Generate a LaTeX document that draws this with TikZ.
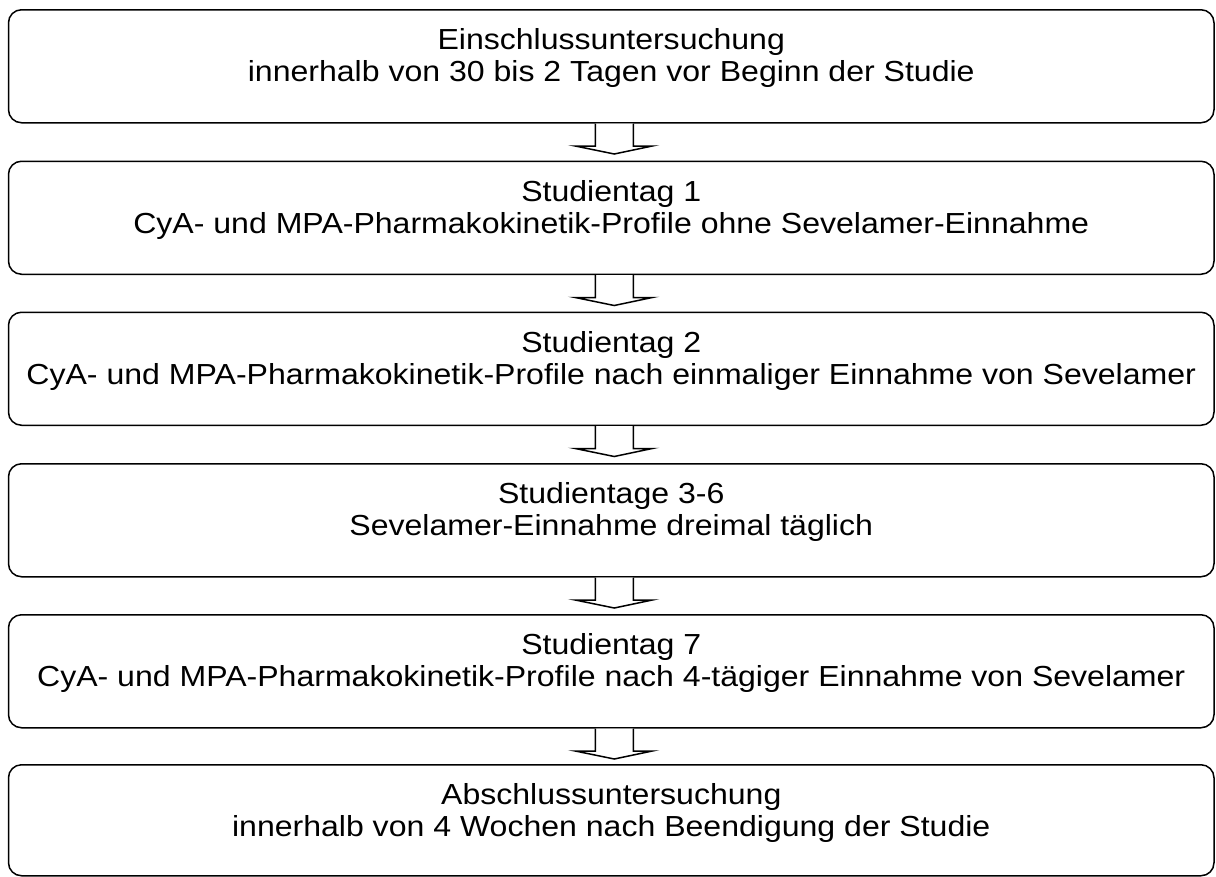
\documentclass[tikz,border=0pt]{standalone}
\usepackage{fontspec}
\setmainfont{Liberation Sans}[FakeStretch=1.105]
\usetikzlibrary{calc}
\begin{document}
\begin{tikzpicture}[x=1pt,y=-1pt,
  stagebox/.style={draw=black, line width=1.5pt, rounded corners=13pt,
    minimum width=1205.5pt, minimum height=#1, inner sep=0pt, anchor=north},
  stagebox/.default=113pt,
  stagetext/.style={anchor=north, inner sep=0pt, align=center,
    font=\fontsize{29}{31.8}\selectfont},
  flowarrow/.style={draw=black, line width=1.5pt, line join=miter, fill=white}]
\useasboundingbox (0,0) rectangle (1216,876);

\node[stagebox] (b1) at (611.25,9) {};
\node[stagebox] (b2) at (611.25,160.5) {};
\node[stagebox] (b3) at (611.25,311.5) {};
\node[stagebox] (b4) at (611.25,463) {};
\node[stagebox] (b5) at (611.25,614) {};
\node[stagebox=111pt] (b6) at (611.25,764) {};

\node[stagetext] (t1) at ($(b1.north)+(0,19.5)$) {Einschlussuntersuchung\\innerhalb von 30 bis 2 Tagen vor Beginn der Studie};
\node[stagetext] (t2) at ($(b2.north)+(0,19.5)$) {Studientag 1\\CyA- und MPA-Pharmakokinetik-Profile ohne Sevelamer-Einnahme};
\node[stagetext] (t3) at ($(b3.north)+(0,19.5)$) {Studientag 2\\CyA- und MPA-Pharmakokinetik-Profile nach einmaliger Einnahme von Sevelamer};
\node[stagetext] (t4) at ($(b4.north)+(0,19.5)$) {Studientage 3-6\\Sevelamer-Einnahme dreimal täglich};
\node[stagetext] (t5) at ($(b5.north)+(0,19.5)$) {Studientag 7\\CyA- und MPA-Pharmakokinetik-Profile nach 4-tägiger Einnahme von Sevelamer};
\node[stagetext] (t6) at ($(b6.north)+(0,19.5)$) {Abschlussuntersuchung\\innerhalb von 4 Wochen nach Beendigung der Studie};

\foreach \a in {1,2,3,4,5}{
  \draw[flowarrow] ($(b\a.south)+(-16,0)$) -- ($(b\a.south)+(-16,22.5)$)
    -- ($(b\a.south)+(-36,22.5)$) -- ($(b\a.south)+(3,30.5)$)
    -- ($(b\a.south)+(41,22.5)$) -- ($(b\a.south)+(22,22.5)$)
    -- ($(b\a.south)+(22,0)$);
}
\end{tikzpicture}
\end{document}
